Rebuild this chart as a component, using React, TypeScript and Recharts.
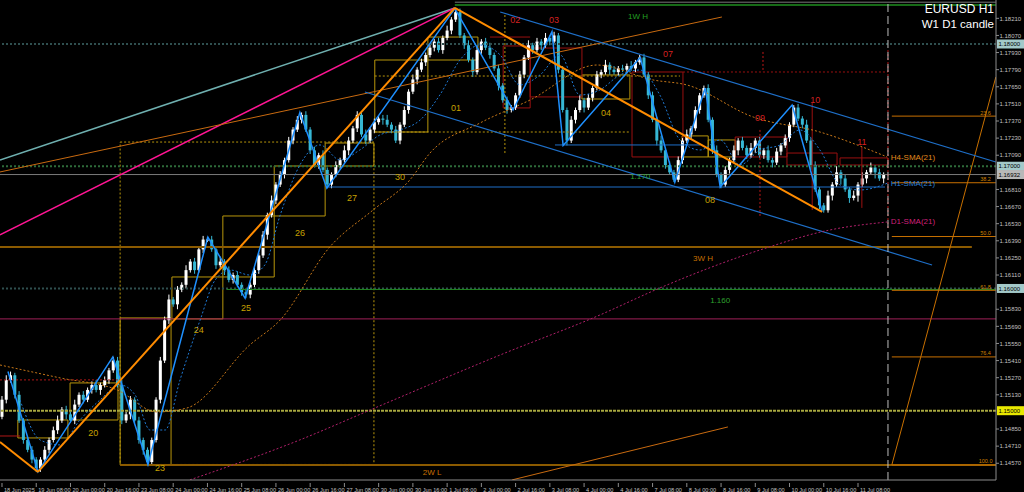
import React from 'react';
import { ComposedChart, Bar, Line, XAxis, YAxis, ReferenceLine, ReferenceArea, ReferenceDot } from 'recharts';

const OPEN_FIRST = 495;
const closePips = [
  509, 525, 529, 513, 492, 476, 468, 460, 453,
  460, 468, 476, 484, 492, 501, 497, 492, 505, 513, 509, 517, 521, 517, 521, 525, 533, 541,
  521, 492, 497, 509, 492, 476, 468, 458,
  476, 509, 541, 574, 591, 587, 599, 603, 615, 622, 615, 632, 640, 640,
  632, 619, 622, 615, 607, 611, 603, 597, 595,
  603, 615, 627, 644, 660, 672, 685, 693, 705, 721, 730, 738, 742,
  730, 713, 701, 709, 697, 685,
  693, 701, 705, 713, 721, 731, 742, 726, 721, 730, 736, 739, 738, 734, 730, 721, 734, 746, 761, 771,
  779, 785, 791, 797, 802, 795, 805, 811, 820, 826,
  807, 799, 787, 777, 795, 802, 797, 791, 780, 766, 754, 746, 748, 758,
  775, 789, 799, 795, 802, 799, 805, 802, 807,
  779, 746, 721,
  738, 746, 754, 748, 756, 764, 775, 777, 783, 779, 777, 780, 779, 782, 780, 785, 789,
  775, 758, 738, 721, 713, 701, 695, 689,
  705, 721, 726, 731, 746, 758, 764,
  738, 713, 693, 685,
  697, 705, 713, 721, 715, 709, 715, 721, 709, 713, 705, 703, 712, 717, 723, 734, 748,
  739, 734, 721, 701, 681, 668, 664,
  676, 685, 695, 690, 681, 674, 676, 685, 690, 695, 699, 695, 690, 693,
];
// wick length in pips above / below the body, one digit per bar
const wickUp = [
  '343232232', '232342324232342323', '34232322', '22334232423232', '324232323',
  '2323242323232', '323242', '232432324232342323242323232423', '32423234232322',
  '324232423', '232', '32423232423232422', '32324232', '3242322', '3242',
  '32423242324232322', '3242322', '42523242524232',
].join('').split('').map(Number);
const wickDown = [
  '232323233', '323232423232324232', '23242342', '32323242323232', '232423233',
  '3232423232323', '232323', '323242323232423232324232323232', '23242323242322',
  '232324232', '324', '23242323242323232', '23242322', '2324232', '2323',
  '23242324232423232', '2324232', '24252425242524',
].join('').split('').map(Number);

const dateTicks = [0, 8, 16, 24, 32, 40, 48, 56, 64, 72, 80, 88, 96, 104, 112, 120, 128, 136, 144, 152, 160, 168, 176, 184, 192, 200];
const dateLabels = [
  '18 Jun 2025', '19 Jun 08:00', '20 Jun 00:00', '20 Jun 16:00', '23 Jun 08:00', '24 Jun 00:00',
  '24 Jun 16:00', '25 Jun 08:00', '26 Jun 00:00', '26 Jun 16:00', '27 Jun 08:00', '30 Jun 00:00',
  '30 Jun 16:00', '1 Jul 08:00', '2 Jul 00:00', '2 Jul 16:00', '3 Jul 08:00', '4 Jul 00:00',
  '4 Jul 16:00', '7 Jul 08:00', '8 Jul 00:00', '8 Jul 16:00', '9 Jul 08:00', '10 Jul 00:00',
  '10 Jul 16:00', '11 Jul 08:00',
];
const priceTicks = [
  1.1457, 1.1471, 1.1485, 1.1513, 1.1527, 1.1541, 1.1555, 1.1569, 1.1583, 1.1611, 1.1625, 1.1639,
  1.1653, 1.1667, 1.1681, 1.1709, 1.1723, 1.1737, 1.1751, 1.1765, 1.1779, 1.1793, 1.1807, 1.1821,
];
const priceMarks = [1.18, 1.17, 1.16932, 1.16, 1.15];
const markColors: Record<string, string> = {
  '1.18000': '#a3c9c9', '1.17000': '#a3c9c9', '1.16932': '#b8b8b8', '1.16000': '#a3c9c9', '1.15000': '#e8e800',
};

const zigzag = [
  { i: 1.4, p: 1.1532 }, { i: 8.4, p: 1.145 }, { i: 25.9, p: 1.1544 }, { i: 34.1, p: 1.1456 },
  { i: 48.1, p: 1.1642 }, { i: 56.8, p: 1.1592 }, { i: 69.6, p: 1.1744 }, { i: 75.9, p: 1.1682 },
  { i: 105.8, p: 1.1829 }, { i: 119.4, p: 1.1746 }, { i: 128.5, p: 1.181 }, { i: 131.1, p: 1.1717 },
  { i: 149.1, p: 1.1789 }, { i: 157.2, p: 1.1687 }, { i: 164.3, p: 1.1764 }, { i: 167.8, p: 1.1683 },
  { i: 184.6, p: 1.175 }, { i: 191.6, p: 1.1663 },
];
const h4Sma = [
  { i: -0.47, p: 1.15374 }, { i: 13.6, p: 1.15268 }, { i: 26.9, p: 1.1517 }, { i: 36.2, p: 1.1499 },
  { i: 43.2, p: 1.15022 }, { i: 57.9, p: 1.15538 }, { i: 65, p: 1.15742 }, { i: 76.6, p: 1.1634 },
  { i: 86.7, p: 1.16642 }, { i: 95.3, p: 1.16888 }, { i: 100, p: 1.17108 }, { i: 111.7, p: 1.17354 },
  { i: 123.4, p: 1.17542 }, { i: 139, p: 1.17828 }, { i: 152.1, p: 1.17706 }, { i: 160, p: 1.17665 },
  { i: 175.5, p: 1.17403 }, { i: 191.1, p: 1.1728 }, { i: 206.8, p: 1.17076 },
];
const h1Sma = [
  { i: 4.2, p: 1.15088 }, { i: 8.9, p: 1.14761 }, { i: 13.6, p: 1.1472 }, { i: 18.2, p: 1.14924 },
  { i: 22.9, p: 1.15088 }, { i: 27.6, p: 1.15211 }, { i: 31.1, p: 1.15129 }, { i: 34.6, p: 1.14842 },
  { i: 38.1, p: 1.14842 }, { i: 41.6, p: 1.15252 }, { i: 46.3, p: 1.15742 }, { i: 49.8, p: 1.16069 },
  { i: 53.3, p: 1.16151 }, { i: 57.9, p: 1.1611 }, { i: 61.4, p: 1.16192 }, { i: 65, p: 1.16601 },
  { i: 69.6, p: 1.1701 }, { i: 74.3, p: 1.17174 }, { i: 79, p: 1.17051 }, { i: 83.6, p: 1.17133 },
  { i: 88.3, p: 1.17256 }, { i: 93, p: 1.17297 }, { i: 97.7, p: 1.17378 }, { i: 102.3, p: 1.17583 },
  { i: 107, p: 1.17869 }, { i: 111.7, p: 1.17992 }, { i: 116.4, p: 1.1791 }, { i: 121, p: 1.17665 },
  { i: 125.7, p: 1.17747 }, { i: 130.4, p: 1.1791 }, { i: 135, p: 1.17583 }, { i: 139.7, p: 1.17624 },
  { i: 144.4, p: 1.17747 }, { i: 149.1, p: 1.17787 }, { i: 153.7, p: 1.17583 }, { i: 158.4, p: 1.17215 },
  { i: 163.1, p: 1.17133 }, { i: 167.8, p: 1.17215 }, { i: 172.4, p: 1.1701 }, { i: 177.1, p: 1.17133 },
  { i: 181.8, p: 1.17174 }, { i: 186.4, p: 1.17297 }, { i: 191.1, p: 1.17133 }, { i: 195.8, p: 1.16847 },
  { i: 200.5, p: 1.16806 }, { i: 207, p: 1.16863 },
];
const d1Sma = [
  { i: 43.9, p: 1.14434 }, { i: 69.6, p: 1.14761 }, { i: 87.1, p: 1.15022 }, { i: 116.4, p: 1.15456 },
  { i: 139.7, p: 1.15783 }, { i: 153.7, p: 1.16004 }, { i: 177.1, p: 1.16315 }, { i: 193.5, p: 1.16479 },
  { i: 206.8, p: 1.16544 },
];

// trend lines: [bar, price] -> [bar, price]
const cadetLine = [[-0.47, 1.17051], [105.8, 1.18295]];
const pinkLine = [[-0.47, 1.16438], [105.8, 1.18295]];
const thinOrange = [[-0.47, 1.16953], [168.2, 1.18221]];
const orangeDown0 = [[-0.47, 1.14744], [8.4, 1.14499]];
const orangeUp = [[8.4, 1.14499], [105.8, 1.18295]];
const orangeDown = [[105.8, 1.18295], [191.6, 1.16626]];
const orangeLow = [[119.2, 1.14434], [169.6, 1.14867]];
const fibLine = [[207.9, 1.14556], [232.2, 1.1773]];
const channelTop = [[116.4, 1.18262], [232.2, 1.17035]];
const channelLow = [[84.8, 1.17607], [217.3, 1.16192]];
const blueFlat = [[[129.2, 1.17174], [163.1, 1.17174]], [[75.9, 1.1683], [206.3, 1.1683]]];

const goldBoxes = [
  [3.7, 15.4, 1.14777, 1.14924], [15.9, 27.1, 1.14924, 1.15227], [27.6, 39.5, 1.14556, 1.15759],
  [39.7, 51.6, 1.15751, 1.16094], [51.6, 63.6, 1.16094, 1.16593], [63.6, 75.5, 1.16593, 1.17002],
  [75.5, 86.9, 1.17002, 1.1719], [87.1, 99.5, 1.1728, 1.17869], [99.5, 111.2, 1.17869, 1.18057],
  [135.5, 146.7, 1.1755, 1.17747], [158.9, 165, 1.17076, 1.17248], [165, 171.3, 1.17076, 1.17215],
];
const redBoxes = [
  [117.1, 123.4, 1.17477, 1.17984], [123.4, 135.5, 1.17567, 1.17967], [147.2, 159.1, 1.17076, 1.17771],
  [171.3, 183.4, 1.17076, 1.17239], [183.4, 195.1, 1.1701, 1.17108], [195.8, 207, 1.1701, 1.17068],
];
const redVerticals = [[189.3, 1.17517, 1.16642], [200.9, 1.17158, 1.16659]];
const redDotted = [[177.8, 1.17935, 1.17771], [177.1, 1.17297, 1.16585], [207, 1.1795, 1.16479]];
const goldTexts = [
  { i: 21.3, p: 1.14818, t: '20' }, { i: 36.9, p: 1.14532, t: '23' }, { i: 46, p: 1.15661, t: '24' },
  { i: 57, p: 1.15841, t: '25' }, { i: 69.6, p: 1.16454, t: '26' }, { i: 81.8, p: 1.1674, t: '27' },
  { i: 93, p: 1.16912, t: '30' }, { i: 106.1, p: 1.17477, t: '01' }, { i: 141.1, p: 1.17436, t: '04' },
  { i: 165.4, p: 1.16724, t: '08' },
];
const redTexts = [
  { i: 119.9, p: 1.18196, t: '02' }, { i: 129, p: 1.18196, t: '03' }, { i: 155.6, p: 1.17918, t: '07' },
  { i: 177.1, p: 1.17395, t: '09' }, { i: 190, p: 1.17542, t: '10' }, { i: 200.9, p: 1.17198, t: '11' },
];
const fibLevels = [
  { p: 1.1741, t: '23.6' }, { p: 1.16865, t: '38.2' }, { p: 1.16425, t: '50.0' },
  { p: 1.15985, t: '61.8' }, { p: 1.1544, t: '76.4' }, { p: 1.14556, t: '100.0' },
];

const toPrice = (pips: number) => 1.1 + pips / 10000;
const candles = closePips.map((c, i) => {
  const o = i === 0 ? OPEN_FIRST : closePips[i - 1];
  const h = Math.max(o, c) + (wickUp[i] ?? 2);
  const l = Math.min(o, c) - (wickDown[i] ?? 2);
  return { i, o: toPrice(o), c: toPrice(c), h: toPrice(h), l: toPrice(l), range: [toPrice(l), toPrice(h)] };
});

const seg = (a: number[], b: number[]) => [{ x: a[0], y: a[1] }, { x: b[0], y: b[1] }];
const FONT = '"Liberation Sans", Arial, sans-serif';

const Candle = (props: any) => {
  const { x, y, width, height, payload } = props;
  if (!payload) return null;
  const { o, c, h, l } = payload;
  const top = Math.min(y, y + height);
  const hh = Math.abs(height);
  const yOf = (p: number) => top + ((h - p) / (h - l || 1)) * hh;
  const cx = x + width / 2;
  const color = c >= o ? '#ffffff' : '#36b7d4';
  const yo = yOf(o);
  const yc = yOf(c);
  return (
    <g>
      <line x1={cx} x2={cx} y1={top} y2={top + hh} stroke={color} strokeWidth={1} />
      <rect x={cx - 1.5} y={Math.min(yo, yc)} width={3} height={Math.max(1, Math.abs(yo - yc))} fill={color} />
    </g>
  );
};

const DateTick = (props: any) => {
  const { x, y, payload } = props;
  const k = dateTicks.indexOf(payload.value);
  return (
    <g>
      <line x1={x} x2={x} y1={y - 5} y2={y - 1} stroke="#8c8c8c" />
      <text x={x + 2} y={y + 4} fill="#c0c0c0" fontSize={5.6} fontFamily={FONT} style={{ textAnchor: 'start' }}>
        {dateLabels[k]}
      </text>
    </g>
  );
};

const PriceTick = (props: any) => {
  const { x, y, payload } = props;
  const label = Number(payload.value).toFixed(5);
  const mark = markColors[label];
  if (mark && priceMarks.includes(Number(payload.value))) {
    return (
      <g>
        <rect x={x - 5} y={y - 4.5} width={27} height={9} fill={mark} />
        <text x={x - 3.5} y={y + 2.2} fill="#000000" fontSize={6} fontFamily={FONT} style={{ textAnchor: 'start' }}>{label}</text>
      </g>
    );
  }
  return (
    <g>
      <line x1={x - 6} x2={x - 3} y1={y} y2={y} stroke="#8c8c8c" />
      <text x={x - 2.5} y={y + 2.2} fill="#c0c0c0" fontSize={6} fontFamily={FONT} style={{ textAnchor: 'start' }}>{label}</text>
    </g>
  );
};

const txt = (fill: string, fontSize: number, position: any = 'center') => ({ fill, fontSize, position, fontFamily: FONT });

export default function App() {
  return (
    <div style={{ position: 'absolute', left: 0, top: 0, width: 1024, height: 492, background: '#000' }}>
      <ComposedChart width={1024} height={492} data={candles} margin={{ top: 0, right: 0, bottom: 0, left: 0 }}>
        <XAxis
          dataKey="i" type="number" domain={[-0.467, 232.24]} allowDataOverflow ticks={dateTicks} interval={0}
          tick={<DateTick />} tickLine={false} axisLine={{ stroke: '#8c8c8c' }} height={12}
        />
        <YAxis
          orientation="right" type="number" domain={[1.14433, 1.1836]} allowDataOverflow
          ticks={[...priceTicks, ...priceMarks]} interval={0} tick={<PriceTick />} tickLine={false}
          tickSize={4} axisLine={{ stroke: '#8c8c8c' }} width={28}
        />

        {/* full-width levels */}
        <ReferenceLine y={1.18} stroke="#2f4f4f" strokeWidth={2} strokeDasharray="2 2" />
        <ReferenceLine y={1.17} stroke="#2e6b3a" strokeWidth={2} strokeDasharray="2 2" />
        <ReferenceLine y={1.16932} stroke="#7a7a7a" />
        <ReferenceLine y={1.16} stroke="#2f4f4f" strokeWidth={2} strokeDasharray="2 2" />
        <ReferenceLine segment={seg([52.5, 1.15992], [232.2, 1.15992])} stroke="#1f8a1f" ifOverflow="hidden" />
        <ReferenceLine y={1.15751} stroke="#a02058" />
        <ReferenceLine y={1.15} stroke="#a8a840" strokeWidth={2} strokeDasharray="3 1" />
        <ReferenceLine segment={seg([-0.47, 1.1634], [226.6, 1.1634])} stroke="#8b5a00" strokeWidth={2} ifOverflow="hidden" />
        <ReferenceLine segment={seg([27.6, 1.14556], [232.2, 1.14556])} stroke="#8b5a00" strokeWidth={2} ifOverflow="hidden" />
        <ReferenceLine segment={seg([105.8, 1.18319], [232.2, 1.18319])} stroke="#1f8f1f" strokeWidth={1.5} ifOverflow="hidden" />
        <ReferenceLine segment={seg([105.8, 1.18342], [232.2, 1.18342])} stroke="#777777" ifOverflow="hidden" />
        {fibLevels.map((f) => (
          <ReferenceLine key={f.t} segment={seg([207.9, f.p], [232.2, f.p])} stroke="#c87000" ifOverflow="hidden" />
        ))}

        {/* boxes */}
        <ReferenceArea x1={27.6} x2={86.9} y1={1.1456} y2={1.17198} fill="none" stroke="#b8960b" strokeDasharray="2 2" ifOverflow="hidden" />
        <ReferenceLine segment={seg([87.1, 1.1728], [146.7, 1.1728])} stroke="#b8960b" strokeDasharray="2 2" ifOverflow="hidden" />
        <ReferenceLine segment={seg([87.1, 1.17738], [158.4, 1.17738])} stroke="#b8960b" strokeDasharray="2 2" ifOverflow="hidden" />
        <ReferenceLine segment={seg([117.5, 1.18237], [117.5, 1.17092])} stroke="#b8960b" strokeDasharray="2 2" ifOverflow="hidden" />
        {goldBoxes.map((b, k) => (
          <ReferenceArea key={'g' + k} x1={b[0]} x2={b[1]} y1={b[2]} y2={b[3]} fill="none" stroke="#b8960b" ifOverflow="hidden" />
        ))}
        {redBoxes.map((b, k) => (
          <ReferenceArea key={'r' + k} x1={b[0]} x2={b[1]} y1={b[2]} y2={b[3]} fill="none" stroke="#9b1010" ifOverflow="hidden" />
        ))}
        <ReferenceLine segment={seg([114, 1.18057], [123.4, 1.18057])} stroke="#9b1010" ifOverflow="hidden" />
        <ReferenceLine segment={seg([159.1, 1.17771], [207, 1.17771])} stroke="#9b1010" strokeDasharray="2 2" ifOverflow="hidden" />
        <ReferenceLine segment={seg([-0.47, 1.15252], [27.1, 1.15252])} stroke="#b01818" strokeDasharray="2 2" ifOverflow="hidden" />
        <ReferenceLine segment={seg([-0.47, 1.14793], [4.2, 1.14793])} stroke="#b01818" ifOverflow="hidden" />
        {redVerticals.map((v, k) => (
          <ReferenceLine key={'rv' + k} segment={seg([v[0], v[1]], [v[0], v[2]])} stroke="#9b1010" ifOverflow="hidden" />
        ))}
        {redDotted.map((v, k) => (
          <ReferenceLine key={'rd' + k} segment={seg([v[0], v[1]], [v[0], v[2]])} stroke="#c01818" strokeDasharray="2 2" ifOverflow="hidden" />
        ))}

        {/* trend lines */}
        <ReferenceLine segment={seg(cadetLine[0], cadetLine[1])} stroke="#6fb0b0" strokeWidth={1.5} ifOverflow="hidden" />
        <ReferenceLine segment={seg(pinkLine[0], pinkLine[1])} stroke="#ff1493" strokeWidth={1.5} ifOverflow="hidden" />
        <ReferenceLine segment={seg(thinOrange[0], thinOrange[1])} stroke="#c86a10" ifOverflow="hidden" />
        <ReferenceLine segment={seg(orangeLow[0], orangeLow[1])} stroke="#c86a10" ifOverflow="hidden" />
        <ReferenceLine segment={seg(fibLine[0], fibLine[1])} stroke="#c87000" ifOverflow="hidden" />
        <ReferenceLine segment={seg(channelTop[0], channelTop[1])} stroke="#1e6fc8" strokeWidth={1.2} ifOverflow="hidden" />
        <ReferenceLine segment={seg(channelLow[0], channelLow[1])} stroke="#1e6fc8" strokeWidth={1.2} ifOverflow="hidden" />
        {blueFlat.map((b, k) => (
          <ReferenceLine key={'bf' + k} segment={seg(b[0], b[1])} stroke="#1e6fc8" ifOverflow="hidden" />
        ))}

        <ReferenceLine x={207} stroke="#bdbdbd" strokeDasharray="8 4" />

        <Line data={d1Sma} dataKey="p" type="monotone" stroke="#b0206a" strokeDasharray="2 2" dot={false} isAnimationActive={false} />
        <Line data={h4Sma} dataKey="p" type="monotone" stroke="#c87818" strokeDasharray="2 2" dot={false} isAnimationActive={false} />
        <Line data={h1Sma} dataKey="p" type="monotone" stroke="#1e78d2" strokeDasharray="2 2" dot={false} isAnimationActive={false} />

        <Bar dataKey="range" barSize={3} shape={<Candle />} isAnimationActive={false} />

        <Line data={zigzag} dataKey="p" type="linear" stroke="#1e90ff" strokeWidth={1.5} dot={false} isAnimationActive={false} />
        <ReferenceLine segment={seg(orangeDown0[0], orangeDown0[1])} stroke="#ff8c00" strokeWidth={2} ifOverflow="hidden" />
        <ReferenceLine segment={seg(orangeUp[0], orangeUp[1])} stroke="#ff8c00" strokeWidth={2} ifOverflow="hidden" />
        <ReferenceLine segment={seg(orangeDown[0], orangeDown[1])} stroke="#ff8c00" strokeWidth={2} ifOverflow="hidden" />

        {/* texts */}
        {goldTexts.map((g) => (
          <ReferenceDot key={'gl' + g.t} x={g.i} y={g.p} r={0} fill="none" stroke="none" ifOverflow="visible" label={{ ...txt('#c8a000', 9), value: g.t }} />
        ))}
        {redTexts.map((g) => (
          <ReferenceDot key={'rt' + g.t} x={g.i} y={g.p} r={0} fill="none" stroke="none" ifOverflow="visible" label={{ ...txt('#d42020', 9), value: g.t }} />
        ))}
        {fibLevels.map((f) => (
          <ReferenceDot key={'ft' + f.t} x={229.8} y={f.p} r={0} fill="none" stroke="none" ifOverflow="visible" label={{ ...txt('#d08000', 5.5), value: f.t, dy: -3.5 }} />
        ))}
        <ReferenceDot x={207.4} y={1.17076} r={0} fill="none" stroke="none" ifOverflow="visible" label={{ ...txt('#e08a1e', 8, 'right'), value: 'H4-SMA(21)', offset: 1 }} />
        <ReferenceDot x={207.4} y={1.16863} r={0} fill="none" stroke="none" ifOverflow="visible" label={{ ...txt('#2a7fd4', 8, 'right'), value: 'H1-SMA(21)', offset: 1 }} />
        <ReferenceDot x={207.4} y={1.16552} r={0} fill="none" stroke="none" ifOverflow="visible" label={{ ...txt('#d0207a', 8, 'right'), value: 'D1-SMA(21)', offset: 1 }} />
        <ReferenceDot x={149.1} y={1.1692} r={0} fill="none" stroke="none" ifOverflow="visible" label={{ ...txt('#2ea02e', 8), value: '1.170' }} />
        <ReferenceDot x={167.8} y={1.15906} r={0} fill="none" stroke="none" ifOverflow="visible" label={{ ...txt('#2ea02e', 8), value: '1.160' }} />
        <ReferenceDot x={163.8} y={1.1625} r={0} fill="none" stroke="none" ifOverflow="visible" label={{ ...txt('#c87000', 8), value: '3W H' }} />
        <ReferenceDot x={100.5} y={1.14499} r={0} fill="none" stroke="none" ifOverflow="visible" label={{ ...txt('#c87000', 8), value: '2W L' }} />
        <ReferenceDot x={148.6} y={1.1823} r={0} fill="none" stroke="none" ifOverflow="visible" label={{ ...txt('#22a022', 8), value: '1W H' }} />
      </ComposedChart>
      <div style={{ position: 'absolute', right: 30, top: 2, textAlign: 'right', color: '#ffffff', fontFamily: FONT, lineHeight: '15px' }}>
        <div style={{ fontSize: 12 }}>EURUSD H1</div>
        <div style={{ fontSize: 11.5 }}>W1 D1 candle</div>
      </div>
    </div>
  );
}
